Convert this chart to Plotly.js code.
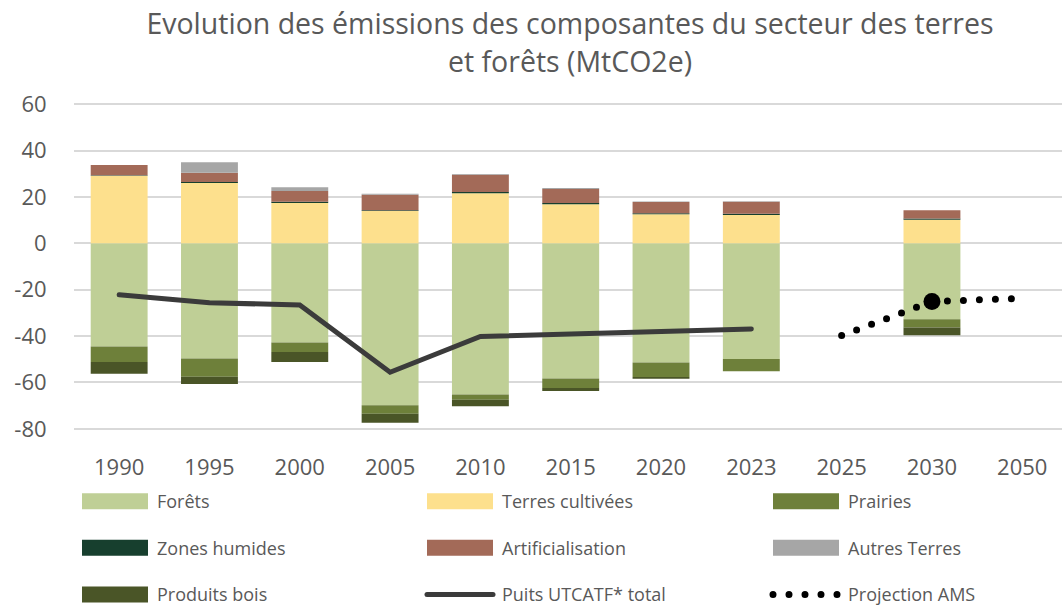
<!DOCTYPE html>
<html><head><meta charset="utf-8">
<script src="https://cdn.plot.ly/plotly-3.0.1.min.js"></script>
<style>
html,body{margin:0;padding:0;background:#fff}
#chart{width:1062px;height:605px}
.scatterlayer .js-line, .infolayer .js-line { stroke-linecap: round; }
</style></head><body><div id="chart"></div><script>
const years = ['1990','1995','2000','2005','2010','2015','2020','2023','2025','2030','2050'];
const forets           = [-44.5,-49.7,-42.8,-69.8,-65.2,-58.3,-51.4,-49.9,null,-32.7,null];
const terresCultivees  = [29.1,26.0,17.4,13.9,21.6,16.8,12.5,12.2,null,10.2,null];
const prairies         = [-6.7,-7.8,-4.1,-3.7,-2.3,-4.1,-6.2,-5.3,null,-3.6,null];
const zonesHumides     = [0.2,0.4,0.5,0.4,0.5,0.6,0.5,0.5,null,0.5,null];
const artificialisation= [4.5,4.0,4.7,6.6,7.5,6.0,4.8,5.2,null,3.6,null];
const autresTerres     = [0,4.5,1.6,0.5,0.3,0.4,0.2,0.2,null,0,null];
const produitsBois     = [-5.0,-3.2,-4.3,-3.9,-2.8,-1.3,-0.8,0,null,-3.3,null];
const puitsTotal       = [-22.2,-25.6,-26.6,-55.6,-40.2,-39.0,-37.9,-36.9,null,null,null];
const projectionAMS    = [null,null,null,null,null,null,null,null,-39.8,-25.1,-23.7];
const projectionPoint  = '2030';
const yTickVals  = [60,40,20,0,-20,-40,-60,-80];
const yTickText  = ['60','40','20','0','-20','-40','-60','-80'];

function bar(name, y, color, legend, grp){
  return {type:'bar', name:name, x:years, y:y, marker:{color:color, line:{width:0}},
          legend:legend, legendgroup:grp, hoverinfo:'skip'};
}
const data = [
  bar('Forêts', forets, '#BFCF96', 'legend', 'g0'),
  bar('Terres cultivées', terresCultivees, '#FDE08D', 'legend2', 'g1'),
  bar('Prairies', prairies, '#6E803A', 'legend3', 'g2'),
  bar('Zones humides', zonesHumides, '#173F2E', 'legend', 'g3'),
  bar('Artificialisation', artificialisation, '#A36A58', 'legend2', 'g4'),
  bar('Autres Terres', autresTerres, '#A6A6A6', 'legend3', 'g5'),
  bar('Produits bois', produitsBois, '#4A5527', 'legend', 'g6'),
  {type:'scatter', mode:'lines', name:'Puits UTCATF* total', x:years, y:puitsTotal,
   line:{color:'#3b3b3b', width:5}, legend:'legend2', legendgroup:'g7', connectgaps:false},
  {type:'scatter', mode:'lines', name:'Projection AMS', x:years, y:projectionAMS,
   line:{color:'#000000', width:7, dash:'0px,16px'}, legend:'legend3', legendgroup:'g8'},
  {type:'scatter', mode:'markers', name:'Projection AMS', x:[projectionPoint],
   y:[projectionAMS[years.indexOf(projectionPoint)]],
   marker:{color:'#000000', size:17}, showlegend:false}
];

const legBase = {xref:'container', yref:'container', xanchor:'left', yanchor:'top',
  orientation:'v', traceorder:'grouped', tracegroupgap:20.2, itemwidth:74,
  font:{size:18, color:'#595959', family:'Open Sans, sans-serif'},
  bgcolor:'rgba(0,0,0,0)', borderwidth:0, itemclick:false, itemdoubleclick:false};
const y0 = 1 - 483/605;

const layout = {
  width:1062, height:605,
  margin:{l:74, r:0, t:103, b:175, autoexpand:false},
  paper_bgcolor:'#ffffff', plot_bgcolor:'#ffffff',
  barmode:'relative', bargap:0.37,
  font:{family:'Open Sans, sans-serif', color:'#595959'},
  title:{text:'Evolution des émissions des composantes du secteur des terres<br>et forêts (MtCO2e)',
         font:{size:28.5, color:'#595959', family:'Open Sans, sans-serif'},
         x:570/1062, xanchor:'center', xref:'container', y:0.943, yanchor:'top', yref:'container'},
  xaxis:{type:'category', range:[-0.5,10.44], tickfont:{size:22, color:'#595959'},
         ticks:'outside', ticklen:18, tickcolor:'rgba(0,0,0,0)', showgrid:false,
         zeroline:false, showline:false, tickangle:0, automargin:false},
  yaxis:{range:[-80.5,60.5], tickmode:'array', tickvals:yTickVals, ticktext:yTickText,
         gridcolor:'#d9d9d9', gridwidth:2,
         zeroline:true, zerolinecolor:'#d9d9d9', zerolinewidth:2,
         tickfont:{size:22, color:'#595959'}, ticks:'outside', ticklen:22,
         tickcolor:'rgba(0,0,0,0)', showline:false, automargin:false},
  showlegend:true,
  legend:Object.assign({}, legBase, {x:73/1062, y:y0}),
  legend2:Object.assign({}, legBase, {x:418/1062, y:y0}),
  legend3:Object.assign({}, legBase, {x:764/1062, y:y0})
};

function fixLegend(){
  document.querySelectorAll('.infolayer .legendpoints path').forEach(function(p){ p.setAttribute('d','M33,8H-33V-8H33Z'); });
  document.querySelectorAll('.infolayer .legendlines path').forEach(function(p){ p.setAttribute('d','M9,0h66'); });
}
Plotly.newPlot('chart', data, layout, {staticPlot:true, displayModeBar:false}).then(function(gd){
  fixLegend();
  gd.on('plotly_afterplot', fixLegend);
  setTimeout(fixLegend, 50);
});
</script></body></html>
